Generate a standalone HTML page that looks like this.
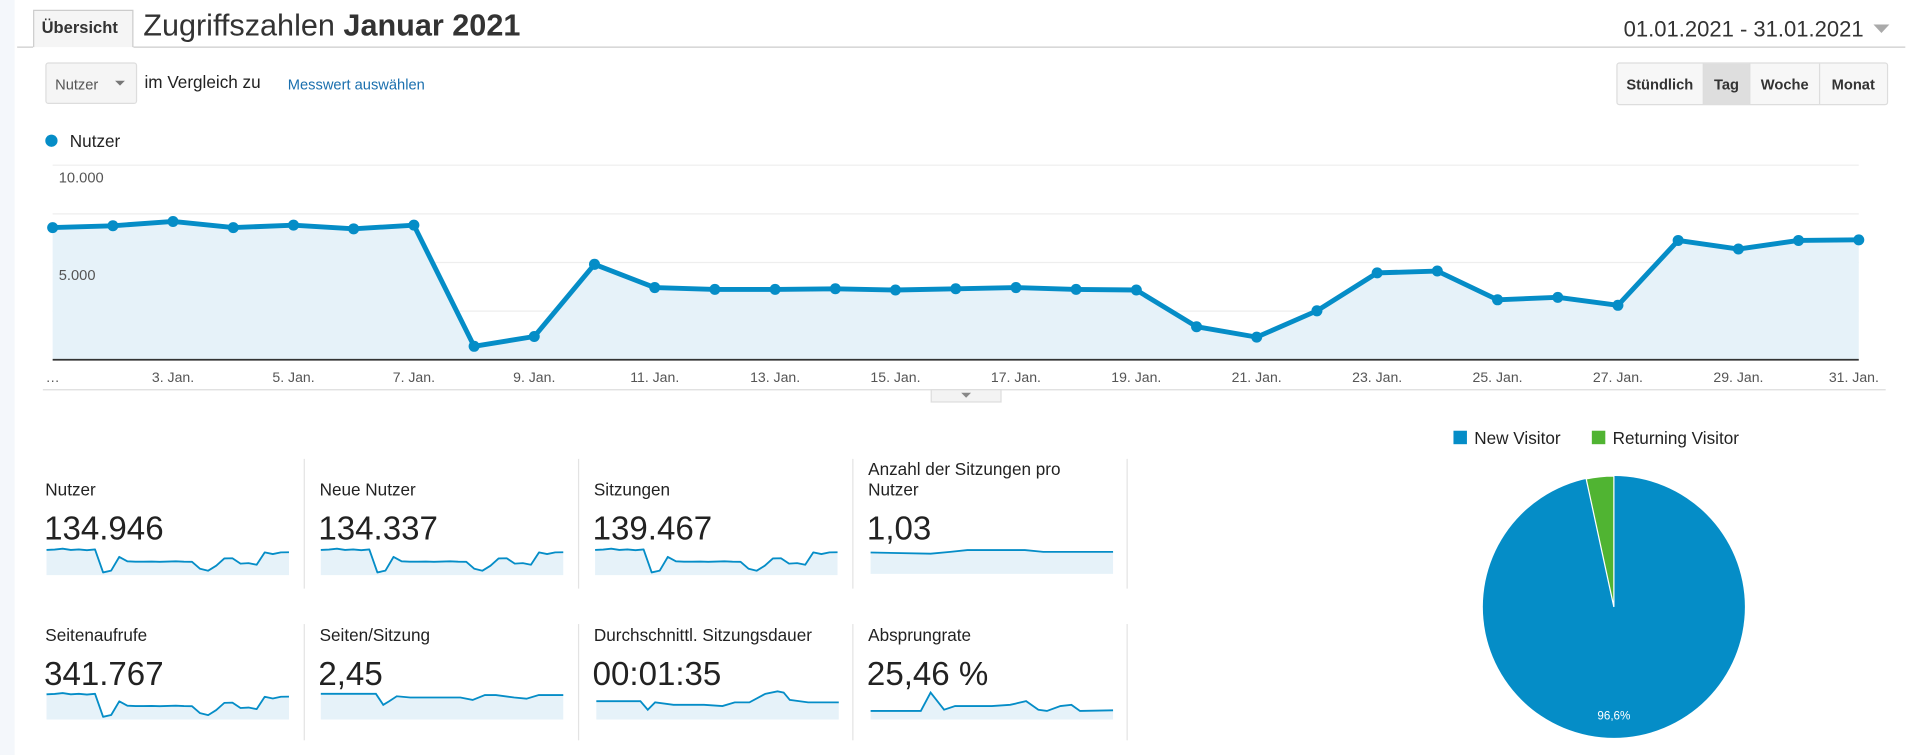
<!DOCTYPE html>
<html><head><meta charset="utf-8"><style>
html,body{margin:0;padding:0;background:#fff;width:1920px;height:755px;overflow:hidden}
svg{display:block}
text{font-family:"Liberation Sans",sans-serif;}
</style></head><body>
<svg width="1920" height="755" viewBox="0 0 1568 617" preserveAspectRatio="none">
<defs>
<polyline id="dl" points="43,186 92.2,184.5 141.3,181 190.5,186 239.7,184 288.8,187 338,184 387.2,283 436.3,275 485.5,216 534.7,235 583.8,236.5 633,236.5 682.2,236 731.3,237 780.5,236 829.7,235 878.8,236.5 928,237 977.2,267 1026.3,275.5 1075.5,254 1124.7,223 1173.8,221.5 1223,245 1272.2,243 1321.3,249.5 1370.5,196.5 1419.7,203.5 1468.8,196.5 1518,196"/>
<polygon id="da" points="43,294 43,186 92.2,184.5 141.3,181 190.5,186 239.7,184 288.8,187 338,184 387.2,283 436.3,275 485.5,216 534.7,235 583.8,236.5 633,236.5 682.2,236 731.3,237 780.5,236 829.7,235 878.8,236.5 928,237 977.2,267 1026.3,275.5 1075.5,254 1124.7,223 1173.8,221.5 1223,245 1272.2,243 1321.3,249.5 1370.5,196.5 1419.7,203.5 1468.8,196.5 1518,196 1518,294"/>
<g id="sp">
<polygon points="0,470 0,449.4 6.6,449.1 13.2,448.4 19.8,449.4 26.4,449 33,449.6 39.6,449 46.2,467.8 52.8,466.3 59.4,455.1 66,458.7 72.6,459 79.2,459 85.8,458.9 92.4,459.1 99,458.9 105.6,458.7 112.2,459 118.8,459.1 125.4,464.8 132,466.4 138.6,462.3 145.2,456.4 151.8,456.2 158.4,460.6 165,460.2 171.6,461.5 178.2,451.4 184.8,452.8 191.4,451.4 198,451.3 198,470" fill="#e6f2f9"/>
<polyline points="0,449.4 6.6,449.1 13.2,448.4 19.8,449.4 26.4,449 33,449.6 39.6,449 46.2,467.8 52.8,466.3 59.4,455.1 66,458.7 72.6,459 79.2,459 85.8,458.9 92.4,459.1 99,458.9 105.6,458.7 112.2,459 118.8,459.1 125.4,464.8 132,466.4 138.6,462.3 145.2,456.4 151.8,456.2 158.4,460.6 165,460.2 171.6,461.5 178.2,451.4 184.8,452.8 191.4,451.4 198,451.3" fill="none" stroke="#058dc7" stroke-width="1.5" stroke-linejoin="round"/>
</g>
</defs>
<rect x="0" y="0" width="12" height="617" fill="#f4f7fb"/>
<!-- header -->
<path d="M27.5,38.5 V8.5 H108.5 V38.5" fill="#f5f5f5" stroke="#ccc"/>
<line x1="14" y1="38.5" x2="27" y2="38.5" stroke="#ccc"/>
<line x1="109" y1="38.5" x2="1556" y2="38.5" stroke="#ccc"/>
<text x="34" y="27" font-size="13.5" font-weight="bold" fill="#333">Übersicht</text>
<text x="117" y="29" font-size="25" fill="#333">Zugriffszahlen <tspan font-weight="bold">Januar 2021</tspan></text>
<text x="1522" y="30" font-size="18" fill="#333" text-anchor="end">01.01.2021 - 31.01.2021</text>
<polygon points="1530,20 1543,20 1536.5,27" fill="#aaa"/>
<!-- controls -->
<rect x="37.5" y="51.5" width="74" height="33" rx="2" fill="#f5f5f5" stroke="#ddd"/>
<text x="45" y="73" font-size="12" fill="#555">Nutzer</text>
<polygon points="94,66 102,66 98,70" fill="#777"/>
<text x="118" y="72" font-size="14" fill="#222">im Vergleich zu</text>
<text x="235" y="73" font-size="12" fill="#1a6fae">Messwert auswählen</text>
<rect x="1320.5" y="51.5" width="221" height="34" rx="2" fill="#f7f7f7" stroke="#ddd"/>
<rect x="1391" y="52" width="38" height="33" fill="#dedede"/>
<line x1="1391" y1="52" x2="1391" y2="85" stroke="#ddd"/>
<line x1="1429" y1="52" x2="1429" y2="85" stroke="#ddd"/>
<line x1="1486" y1="52" x2="1486" y2="85" stroke="#ddd"/>
<g font-size="12" font-weight="bold" fill="#333" text-anchor="middle">
<text x="1355.5" y="73">Stündlich</text><text x="1410" y="73">Tag</text><text x="1457.5" y="73">Woche</text><text x="1513.5" y="73">Monat</text></g>
<!-- legend -->
<circle cx="42" cy="115" r="5" fill="#058dc7"/>
<text x="57" y="120" font-size="14" fill="#222">Nutzer</text>
<!-- grid -->
<g stroke="#eee" stroke-width="1">
<line x1="43" y1="135" x2="1518" y2="135"/><line x1="43" y1="174.75" x2="1518" y2="174.75"/>
<line x1="43" y1="214.5" x2="1518" y2="214.5"/><line x1="43" y1="254.25" x2="1518" y2="254.25"/></g>
<use href="#da" fill="#e6f2f9"/>
<line x1="43" y1="294" x2="1518" y2="294" stroke="#333" stroke-width="1.5"/>
<text x="48" y="149" font-size="12" fill="#555">10.000</text>
<text x="48" y="229" font-size="12" fill="#555">5.000</text>
<use href="#dl" fill="none" stroke="#058dc7" stroke-width="4" stroke-linejoin="round"/>
<g fill="#058dc7">
<circle cx="43" cy="186" r="4.5"/><circle cx="92.2" cy="184.5" r="4.5"/><circle cx="141.3" cy="181" r="4.5"/><circle cx="190.5" cy="186" r="4.5"/><circle cx="239.7" cy="184" r="4.5"/><circle cx="288.8" cy="187" r="4.5"/><circle cx="338" cy="184" r="4.5"/><circle cx="387.2" cy="283" r="4.5"/><circle cx="436.3" cy="275" r="4.5"/><circle cx="485.5" cy="216" r="4.5"/><circle cx="534.7" cy="235" r="4.5"/><circle cx="583.8" cy="236.5" r="4.5"/><circle cx="633" cy="236.5" r="4.5"/><circle cx="682.2" cy="236" r="4.5"/><circle cx="731.3" cy="237" r="4.5"/><circle cx="780.5" cy="236" r="4.5"/><circle cx="829.7" cy="235" r="4.5"/><circle cx="878.8" cy="236.5" r="4.5"/><circle cx="928" cy="237" r="4.5"/><circle cx="977.2" cy="267" r="4.5"/><circle cx="1026.3" cy="275.5" r="4.5"/><circle cx="1075.5" cy="254" r="4.5"/><circle cx="1124.7" cy="223" r="4.5"/><circle cx="1173.8" cy="221.5" r="4.5"/><circle cx="1223" cy="245" r="4.5"/><circle cx="1272.2" cy="243" r="4.5"/><circle cx="1321.3" cy="249.5" r="4.5"/><circle cx="1370.5" cy="196.5" r="4.5"/><circle cx="1419.7" cy="203.5" r="4.5"/><circle cx="1468.8" cy="196.5" r="4.5"/><circle cx="1518" cy="196" r="4.5"/></g>
<g font-size="11.5" fill="#555" text-anchor="middle">
<text x="43" y="312">…</text><text x="141.3" y="312">3. Jan.</text><text x="239.7" y="312">5. Jan.</text><text x="338" y="312">7. Jan.</text><text x="436.3" y="312">9. Jan.</text><text x="534.7" y="312">11. Jan.</text><text x="633" y="312">13. Jan.</text><text x="731.3" y="312">15. Jan.</text><text x="829.7" y="312">17. Jan.</text><text x="928" y="312">19. Jan.</text><text x="1026.3" y="312">21. Jan.</text><text x="1124.7" y="312">23. Jan.</text><text x="1223" y="312">25. Jan.</text><text x="1321.3" y="312">27. Jan.</text><text x="1419.7" y="312">29. Jan.</text><text x="1514" y="312">31. Jan.</text></g>
<line x1="35" y1="318.5" x2="1540" y2="318.5" stroke="#ddd"/>
<rect x="760.5" y="318.5" width="57" height="10" fill="#f3f3f3" stroke="#ddd"/>
<polygon points="785,321 793,321 789,325" fill="#888"/>
<!-- metrics -->
<g stroke="#e3e3e3"><line x1="248.5" y1="375" x2="248.5" y2="481"/><line x1="472.5" y1="375" x2="472.5" y2="481"/><line x1="696.5" y1="375" x2="696.5" y2="481"/><line x1="920.5" y1="375" x2="920.5" y2="481"/>
<line x1="248.5" y1="510" x2="248.5" y2="605"/><line x1="472.5" y1="510" x2="472.5" y2="605"/><line x1="696.5" y1="510" x2="696.5" y2="605"/><line x1="920.5" y1="510" x2="920.5" y2="605"/></g>
<g font-size="14" fill="#222">
<text x="37" y="405">Nutzer</text><text x="261" y="405">Neue Nutzer</text><text x="485" y="405">Sitzungen</text><text x="709" y="388">Anzahl der Sitzungen pro</text><text x="709" y="405">Nutzer</text>
<text x="37" y="524">Seitenaufrufe</text><text x="261" y="524">Seiten/Sitzung</text><text x="485" y="524">Durchschnittl. Sitzungsdauer</text><text x="709" y="524">Absprungrate</text></g>
<g font-size="27" fill="#222">
<text x="36" y="441">134.946</text><text x="260" y="441">134.337</text><text x="484" y="441">139.467</text><text x="708" y="441">1,03</text>
<text x="36" y="560">341.767</text><text x="260" y="560">2,45</text><text x="484" y="560">00:01:35</text><text x="708" y="560">25,46 %</text></g>
<use href="#sp" transform="translate(38,0)"/>
<use href="#sp" transform="translate(262,0)"/>
<use href="#sp" transform="translate(486,0)"/>
<use href="#sp" transform="translate(38,118)"/>
<polygon points="711,469 711,451.5 760,452.5 776,451 790,449.5 837,449.5 852,451 909,451 909,469" fill="#e6f2f9"/>
<polyline points="711,451.5 760,452.5 776,451 790,449.5 837,449.5 852,451 909,451" fill="none" stroke="#058dc7" stroke-width="1.5"/>
<polygon points="262,588 262,567 307,567 313,576 318,573 324,569 335,570 360,570 376,570 386,572 396,568 405,568 420,570 430,571 440,568 460,568 460,588" fill="#e6f2f9"/>
<polyline points="262,567 307,567 313,576 318,573 324,569 335,570 360,570 376,570 386,572 396,568 405,568 420,570 430,571 440,568 460,568" fill="none" stroke="#058dc7" stroke-width="1.5"/>
<polygon points="487,588 487,573 523,573 529,580 535,574 550,576 575,576 590,577 600,574 612,574 625,567 635,565 640,566 645,572 660,574 685,574 685,588" fill="#e6f2f9"/>
<polyline points="487,573 523,573 529,580 535,574 550,576 575,576 590,577 600,574 612,574 625,567 635,565 640,566 645,572 660,574 685,574" fill="none" stroke="#058dc7" stroke-width="1.5"/>
<polygon points="711,588 711,581 752,581 760,566 771,580 780,577 810,577 825,576 838,573 848,580 855,581 866,577 875,576 882,581 909,580.5 909,588" fill="#e6f2f9"/>
<polyline points="711,581 752,581 760,566 771,580 780,577 810,577 825,576 838,573 848,580 855,581 866,577 875,576 882,581 909,580.5" fill="none" stroke="#058dc7" stroke-width="1.5"/>
<!-- pie -->
<rect x="1187" y="352" width="11" height="11" fill="#058dc7"/>
<text x="1204" y="363" font-size="14" fill="#222">New Visitor</text>
<rect x="1300" y="352" width="11" height="11" fill="#50b432"/>
<text x="1317" y="363" font-size="14" fill="#222">Returning Visitor</text>
<circle cx="1318" cy="496" r="107" fill="#058dc7"/>
<path d="M1318,496 L1318,389 A107,107 0 0,0 1295.4,391.4 Z" fill="#50b432" stroke="#fff" stroke-width="1"/>
<text x="1318" y="588" font-size="9.5" fill="#fff" text-anchor="middle">96,6%</text>
</svg>
</body></html>
